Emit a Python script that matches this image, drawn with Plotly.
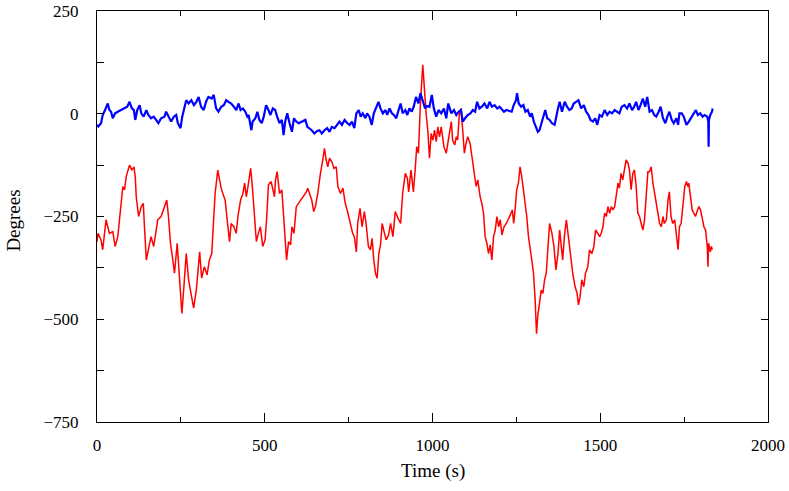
import plotly.graph_objects as go

# Red series (time in s, degrees)
red_t = [0, 3, 12, 17, 27, 37, 47, 54, 62, 70, 77, 82, 87, 97, 104, 110, 114, 117, 124, 132,
         138, 142, 147, 153, 161, 169, 176, 181, 191, 201, 208, 213, 219, 226, 231, 239, 246, 253, 259, 266,
         273, 281, 288, 296, 306, 312, 320, 328, 335, 342, 348, 352, 360, 365, 370, 375, 382, 388, 395, 400,
         408, 415, 420, 428, 435, 440, 445, 450, 458, 463, 468, 475, 481, 487, 494, 501, 506, 511, 519, 524,
         529, 532, 537, 544, 551, 557, 561, 565, 571, 577, 581, 587, 594, 604, 613, 624, 628, 636, 640, 646,
         651, 658, 663, 666, 673, 678, 683, 688, 693, 700, 706, 713, 718, 726, 733, 740, 748, 756, 762, 767,
         773, 777, 784, 790, 797, 802, 809, 815, 820, 825, 830, 835, 840, 845, 850, 857, 862, 869, 875, 882,
         889, 897, 905, 911, 919, 925, 929, 936, 943, 949, 953, 958, 964, 971, 976, 981, 986, 991, 996, 1001,
         1006, 1011, 1016, 1021, 1026, 1034, 1041, 1047, 1056, 1060, 1066, 1071, 1075, 1080, 1085, 1090, 1095, 1100, 1105, 1112,
         1118, 1125, 1130, 1135, 1142, 1147, 1152, 1157, 1162, 1167, 1172, 1177, 1182, 1187, 1192, 1197, 1202, 1207, 1213, 1220,
         1226, 1232, 1238, 1242, 1247, 1251, 1256, 1261, 1266, 1271, 1276, 1281, 1286, 1291, 1296, 1301, 1306, 1310, 1314, 1319,
         1324, 1329, 1334, 1339, 1344, 1349, 1356, 1362, 1368, 1374, 1379, 1384, 1388, 1393, 1399, 1405, 1411, 1418, 1425, 1431,
         1435, 1440, 1445, 1451, 1456, 1463, 1468, 1475, 1481, 1486, 1493, 1498, 1503, 1508, 1513, 1518, 1523, 1528, 1533, 1538,
         1543, 1548, 1553, 1557, 1562, 1567, 1572, 1577, 1583, 1587, 1592, 1597, 1602, 1607, 1612, 1617, 1622, 1627, 1632, 1637,
         1642, 1647, 1652, 1657, 1662, 1667, 1672, 1677, 1682, 1687, 1691, 1697, 1702, 1706, 1711, 1716, 1722, 1727, 1732, 1736,
         1741, 1747, 1752, 1757, 1761, 1764, 1769, 1774, 1779, 1784, 1790, 1794, 1799, 1804, 1809, 1814, 1819, 1821, 1823, 1828,
         1831, 1834]
red_v = [-311, -291, -307, -331, -258, -291, -287, -323, -299, -234, -177, -185, -153, -125, -137, -129, -153, -202, -250, -226,
         -218, -283, -356, -331, -299, -323, -291, -258, -250, -226, -210, -250, -315, -356, -388, -315, -396, -486, -421, -340,
         -404, -445, -473, -429, -336, -400, -372, -392, -356, -340, -258, -194, -137, -165, -181, -194, -210, -258, -311, -267,
         -275, -291, -250, -210, -194, -169, -202, -177, -133, -177, -234, -311, -291, -275, -323, -307, -250, -173, -165, -185,
         -202, -161, -141, -194, -185, -258, -311, -356, -311, -319, -275, -291, -226, -214, -202, -190, -181, -202, -210, -238,
         -226, -194, -153, -145, -112, -84, -112, -129, -108, -117, -133, -129, -177, -194, -181, -218, -242, -275, -291, -299,
         -336, -267, -230, -275, -238, -267, -323, -331, -303, -356, -388, -400, -340, -319, -267, -291, -307, -295, -267, -299,
         -238, -254, -267, -194, -145, -157, -190, -137, -190, -129, -80, -96, 25, 119, 55, 0, -40, -108, -48, -64,
         -40, -68, -32, -56, -32, -80, -96, -64, -19, -64, -76, -56, -64, 0, 13, -40, -96, -72, -56, -72,
         -104, -153, -177, -161, -202, -218, -242, -299, -315, -340, -319, -356, -299, -283, -250, -275, -258, -295, -275, -267,
         -258, -246, -234, -267, -226, -185, -169, -129, -153, -185, -210, -250, -299, -323, -356, -388, -453, -535, -490, -461,
         -429, -437, -404, -388, -323, -267, -291, -323, -380, -340, -283, -323, -356, -299, -258, -299, -348, -388, -421, -437,
         -465, -445, -404, -421, -388, -372, -331, -340, -323, -283, -291, -299, -291, -275, -242, -250, -226, -242, -226, -234,
         -226, -194, -169, -181, -145, -161, -137, -112, -121, -137, -185, -145, -137, -177, -242, -250, -267, -283, -258, -210,
         -141, -141, -129, -169, -194, -210, -234, -267, -275, -250, -267, -258, -210, -190, -250, -267, -258, -291, -331, -275,
         -267, -218, -177, -165, -177, -169, -210, -234, -242, -250, -234, -226, -234, -258, -275, -283, -323, -372, -315, -336,
         -323, -331]

# Blue series (time in s, degrees)
blue_t = [0, 4, 12, 17, 24, 32, 37, 42, 47, 54, 62, 72, 82, 90, 97, 104, 110, 114, 120, 127,
          132, 139, 147, 153, 161, 169, 176, 183, 191, 201, 206, 213, 221, 229, 236, 241, 249, 254, 259, 266,
          273, 281, 289, 296, 303, 310, 318, 325, 332, 342, 348, 355, 362, 370, 378, 385, 392, 400, 408, 415,
          422, 428, 435, 442, 448, 452, 460, 464, 472, 478, 484, 491, 497, 504, 511, 517, 524, 531, 537, 544,
          551, 556, 561, 567, 574, 581, 587, 594, 601, 613, 621, 627, 633, 640, 648, 656, 663, 670, 678, 686,
          693, 700, 708, 716, 723, 730, 738, 746, 753, 760, 767, 773, 780, 786, 792, 800, 805, 812, 819, 825,
          832, 839, 845, 852, 860, 865, 872, 879, 885, 892, 899, 905, 911, 919, 925, 931, 938, 944, 951, 958,
          964, 971, 978, 984, 991, 998, 1004, 1011, 1018, 1026, 1034, 1041, 1047, 1056, 1064, 1071, 1078, 1085, 1090, 1097,
          1105, 1113, 1120, 1127, 1133, 1140, 1147, 1155, 1163, 1170, 1177, 1185, 1193, 1200, 1207, 1213, 1220, 1236, 1242, 1249,
          1252, 1257, 1264, 1271, 1277, 1284, 1291, 1296, 1302, 1309, 1314, 1319, 1324, 1329, 1336, 1342, 1349, 1356, 1364, 1373,
          1379, 1386, 1394, 1401, 1408, 1415, 1421, 1428, 1435, 1443, 1451, 1458, 1465, 1471, 1478, 1485, 1491, 1498, 1505, 1513,
          1521, 1528, 1535, 1543, 1550, 1557, 1564, 1572, 1580, 1587, 1595, 1601, 1607, 1614, 1620, 1627, 1634, 1640, 1647, 1654,
          1661, 1667, 1674, 1680, 1687, 1694, 1700, 1706, 1713, 1719, 1727, 1732, 1736, 1743, 1749, 1757, 1764, 1770, 1777, 1785,
          1791, 1798, 1805, 1811, 1819, 1822, 1823, 1824, 1828, 1833, 1835]
blue_v = [-27, -31, -23, -3, 9, 25, 9, 5, -11, 1, 5, 9, 13, 17, 29, 13, 9, -15, 9, 21,
          1, -7, 9, -3, -11, -7, -15, -23, -11, -7, 5, -7, -19, -7, -3, -23, -35, -7, 13, 33,
          25, 33, 21, 29, 41, 17, 9, 29, 41, 37, 46, 13, 5, 17, 21, 33, 29, 25, 17, 9,
          25, 9, 13, 5, -7, -3, -40, -19, -11, 5, -15, -23, -7, 21, 9, -3, 13, 9, -7, -23,
          -15, -52, -19, 1, -23, -44, -11, -19, -23, -19, -15, -32, -35, -40, -48, -42, -40, -48, -40, -35,
          -44, -32, -35, -27, -19, -27, -15, -23, -27, -19, -35, 1, 9, -7, 1, -11, 1, -7, -27, 1,
          13, 29, 13, 1, 9, -3, 13, 1, -3, -11, 9, 25, 1, 9, -3, 13, 5, 17, 41, 25,
          50, 29, 13, 19, 17, 46, 13, -7, 9, 1, 13, -11, 25, 1, 9, -3, 5, 9, -19, -11,
          -3, 1, 9, 5, 29, 13, 17, 25, 13, 29, 17, 21, 13, 17, 9, 5, 9, 5, 21, 33,
          50, 25, 17, 21, 5, 9, -7, 1, -19, -32, -44, -40, -27, -15, 9, -11, -15, -23, -27, 9,
          29, 5, 29, 17, 9, 13, 25, 29, 33, 13, 21, 5, -3, -15, -19, -11, -27, -3, -7, 9,
          -3, 5, 1, 9, 5, 1, 17, 21, 13, 25, 9, 17, 29, 9, 21, 37, 17, 41, 5, 9,
          -3, -7, 5, 17, -11, -23, -7, 5, -15, -23, -11, -27, 1, 1, -7, -27, -19, -11, 1, 9,
          -3, 1, -7, -3, -7, -19, -80, -15, -3, 5, 13]

x_ticks = [0, 500, 1000, 1500, 2000]
y_ticks = [-750, -500, -250, 0, 250]
x_title = "Time (s)"
y_title = "Degrees"

fig = go.Figure()
fig.add_trace(go.Scatter(x=red_t, y=red_v, mode="lines",
                         line=dict(color="#ff0000", width=1.5), showlegend=False))
fig.add_trace(go.Scatter(x=blue_t, y=blue_v, mode="lines",
                         line=dict(color="#0000ff", width=2.2), showlegend=False))

font = dict(family="Liberation Serif, Times New Roman, serif", size=17, color="black")
title_font = dict(family="Liberation Serif, Times New Roman, serif", size=19, color="black")

fig.update_layout(
    width=789, height=491,
    margin=dict(l=97, r=21, t=11, b=69, autoexpand=False),
    paper_bgcolor="white", plot_bgcolor="white",
    font=font,
    xaxis=dict(range=[0, 2000], tickvals=x_ticks, ticks="inside", ticklen=9, tickcolor="black",
               showline=True, linecolor="black", linewidth=1, mirror="ticks", showgrid=False,
               zeroline=False, ticklabelstandoff=8, automargin=False, ticklabeloverflow="allow",
               minor=dict(dtick=250, tick0=0, ticks="inside", ticklen=5, tickcolor="black", showgrid=False)),
    yaxis=dict(range=[-750, 250], tickvals=y_ticks, ticks="inside", ticklen=7, tickcolor="black",
               showline=True, linecolor="black", linewidth=1, mirror="ticks", showgrid=False,
               zeroline=False, ticklabelstandoff=14, automargin=False, ticklabeloverflow="allow",
               minor=dict(dtick=125, tick0=0, ticks="inside", ticklen=7, tickcolor="black", showgrid=False)),
    annotations=[
        dict(text=x_title, xref="paper", yref="paper", x=0.5, y=-0.119,
             xanchor="center", yanchor="middle", showarrow=False, font=title_font),
        dict(text=y_title, xref="paper", yref="paper", x=-0.1237, y=0.49, textangle=-90,
             xanchor="center", yanchor="middle", showarrow=False, font=title_font),
    ],
)

# remove the default page margin so the figure sits at the window's top-left corner
fig.write_html("out.html", config={"displayModeBar": False},
               post_script="document.body.style.margin='0';")
